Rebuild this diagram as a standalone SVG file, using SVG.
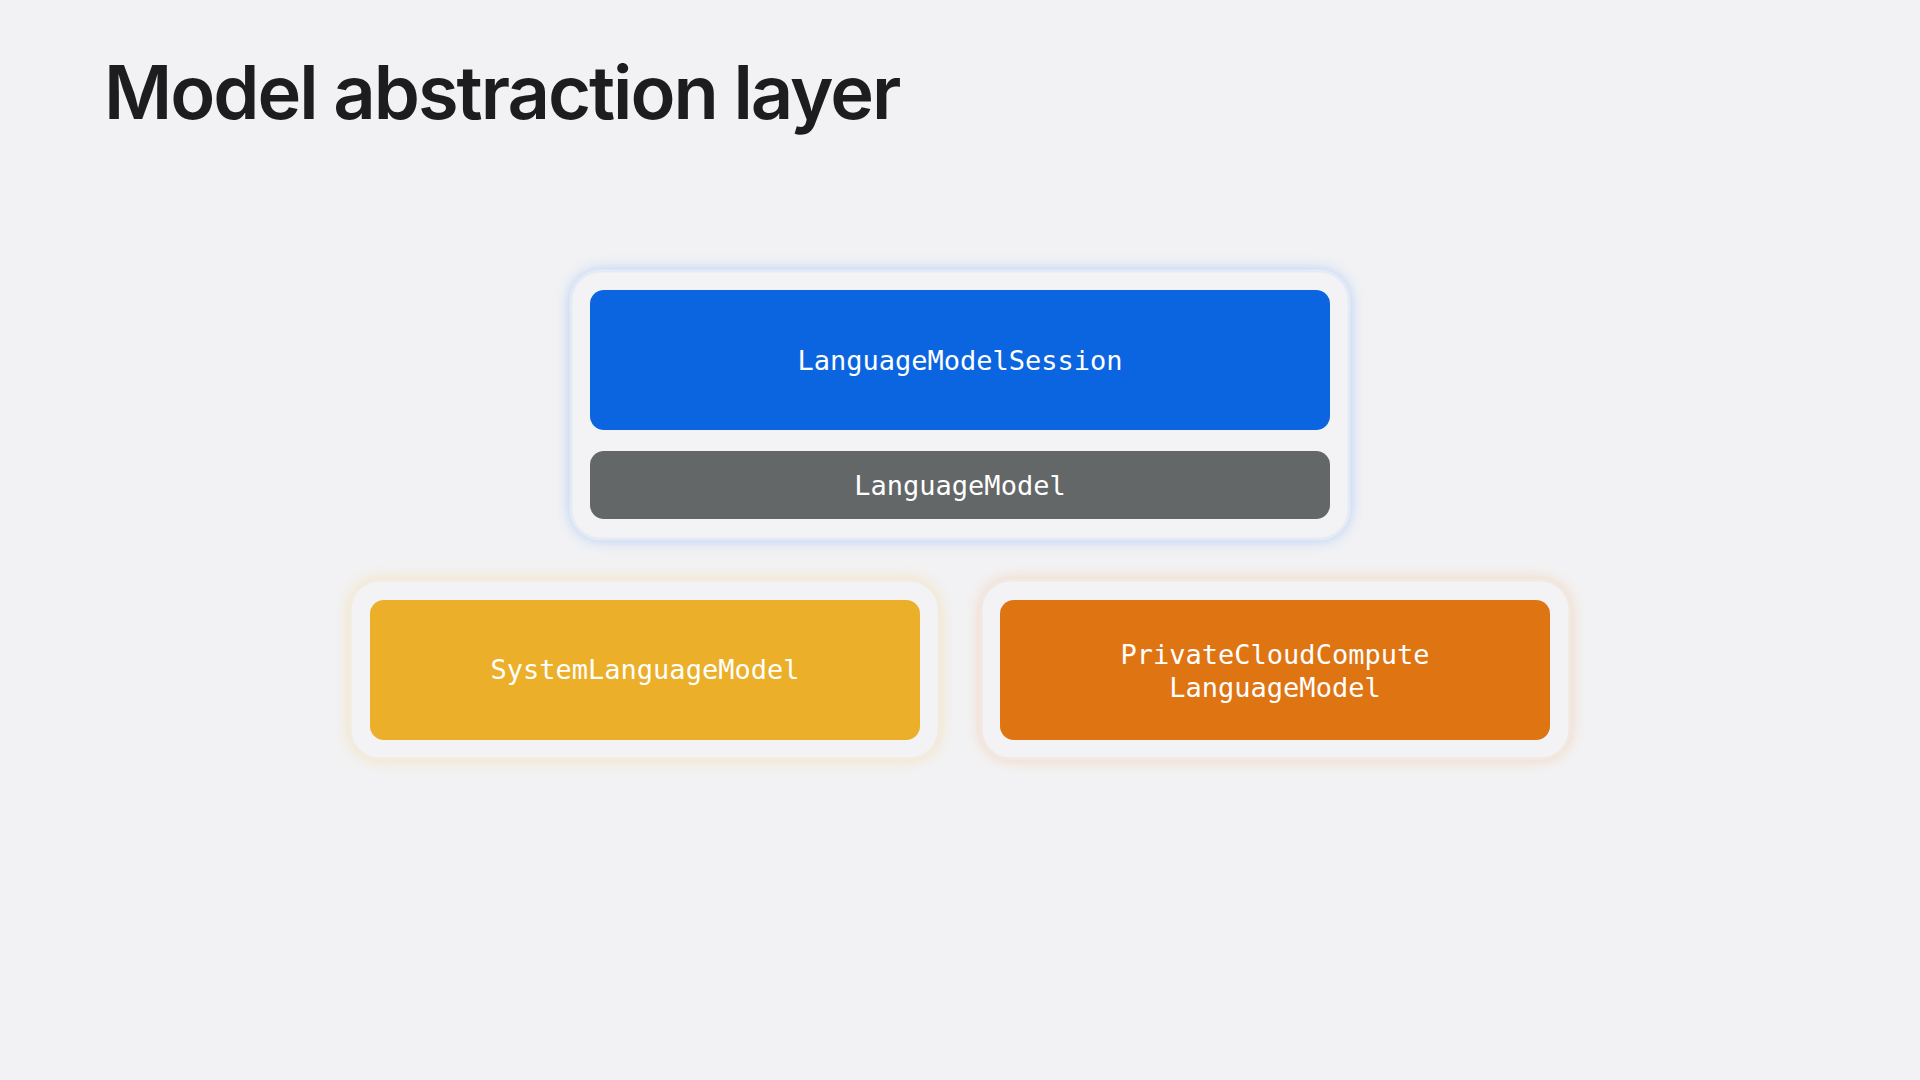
<svg xmlns="http://www.w3.org/2000/svg" width="1920" height="1080" viewBox="0 0 1920 1080">
<defs>
<style>
.t{font-family:"DejaVu Sans Mono","Liberation Mono",monospace;font-size:27px;fill:#fff;text-anchor:middle;dominant-baseline:central}
.c{fill:#f3f3f5;stroke-width:3}
</style>
<filter id="g" x="-20%" y="-30%" width="140%" height="160%"><feGaussianBlur stdDeviation="8"/></filter>
</defs>
<rect width="1920" height="1080" fill="#f2f2f4"/>
<text x="104" y="119" font-family="Inter,'Liberation Sans',sans-serif" font-size="74" font-weight="600" letter-spacing="-2" fill="#1d1d1f">Model abstraction layer</text>
<g id="top">
<rect x="571" y="271" width="778" height="268" rx="30" fill="#a9c6f5" filter="url(#g)"/>
<rect x="571" y="271" width="778" height="268" rx="30" class="c" stroke="#e4ebf7"/>
</g>
<g id="session">
<rect x="590" y="290" width="740" height="140" rx="14" fill="#0b65e0"/>
<text class="t" x="960" y="360">LanguageModelSession</text>
</g>
<g id="languagemodel">
<rect x="590" y="451" width="740" height="68" rx="14" fill="#636768"/>
<text class="t" x="960" y="485">LanguageModel</text>
</g>
<g id="system">
<rect x="350" y="580" width="589" height="179" rx="30" fill="#f4ddb0" filter="url(#g)"/>
<rect x="350" y="580" width="589" height="179" rx="30" class="c" stroke="#f1ebe0"/>
<rect x="370" y="600" width="550" height="140" rx="14" fill="#ecaf29"/>
<text class="t" x="645" y="669">SystemLanguageModel</text>
</g>
<g id="pcc">
<rect x="981" y="580" width="589" height="179" rx="30" fill="#f2cfb3" filter="url(#g)"/>
<rect x="981" y="580" width="589" height="179" rx="30" class="c" stroke="#f1e8e2"/>
<rect x="1000" y="600" width="550" height="140" rx="14" fill="#df7413"/>
<text class="t" x="1275" y="654">PrivateCloudCompute</text>
<text class="t" x="1275" y="687">LanguageModel</text>
</g>
<g id="connectors"/>
</svg>
